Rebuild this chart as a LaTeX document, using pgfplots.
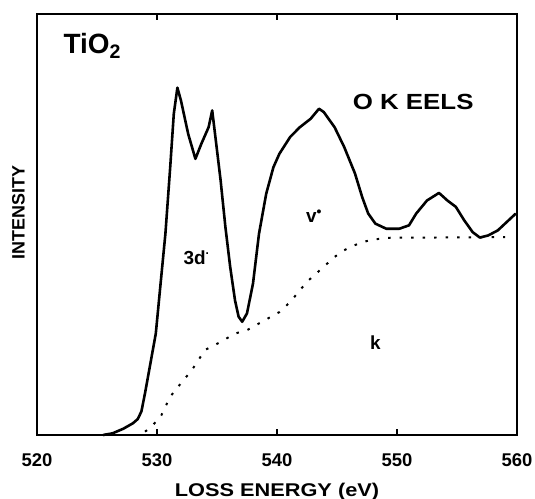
\documentclass[border=0pt]{standalone}
\usepackage{fontspec}
\setmainfont{Liberation Sans}
\newfontfamily\widefont{Liberation Sans}[FakeStretch=1.18]
\usepackage{pgfplots}
\pgfplotsset{compat=1.18}

% O K-edge EELS spectrum of TiO2 (solid) and atomic-like background (dotted)
\pgfplotstableread{
x y
525.5 0
526.3 0.4
527.2 1.5
528.0 2.8
528.4 3.8
528.7 5.6
529.0 9.9
529.4 16.2
529.9 24.1
530.3 36.0
530.7 47.8
531.1 63.6
531.4 76.3
531.7 82.5
532.0 79.4
532.6 71.5
533.2 65.6
533.7 69.2
534.3 73.1
534.6 77.1
534.9 70.0
535.3 60.5
535.7 49.4
536.1 39.9
536.5 32.0
536.8 28.1
537.1 26.9
537.5 28.9
538.0 36.0
538.5 47.8
539.1 57.3
539.7 63.6
540.2 66.8
541.1 70.8
541.9 73.1
542.8 75.1
543.5 77.5
543.9 76.7
544.8 73.1
545.6 68.4
546.5 62.1
547.1 56.5
547.6 52.6
548.2 50.2
549.1 49.0
550.2 49.0
551.0 49.8
551.6 52.6
552.5 55.7
553.5 57.5
554.2 55.7
554.9 54.2
555.6 51.0
556.3 48.2
556.9 46.9
557.6 47.4
558.4 48.6
559.3 51.0
559.9 52.6
}\spectrum

\pgfplotstableread{
x y
529.0 0.8
529.4 1.6
530.3 4.3
531.1 9.1
532.0 12.3
532.9 15.4
534.0 20.2
535.3 22.1
536.5 24.1
537.5 24.9
540.2 29.2
541.1 31.6
542.5 36.4
543.4 38.7
544.8 42.3
545.6 43.9
546.8 45.5
547.9 46.4
549.6 46.9
552.5 46.9
559.0 47.0
}\background

\begin{document}
\begin{tikzpicture}
\useasboundingbox (-37bp,-64bp) rectangle (498bp,435bp);
\begin{axis}[
    scale only axis,
    width=480bp, height=421bp,
    xmin=520, xmax=560, ymin=0, ymax=100,
    xtick={520,530,...,560}, ytick=\empty,
    tick align=inside,
    major tick length=6bp,
    every tick/.style={black, line width=1.8pt},
    axis line style={line width=2.8pt},
    /pgf/number format/assume math mode=true,
    /pgf/number format/1000 sep={},
    xticklabel style={font=\fontsize{18.5}{18.5}\selectfont\bfseries,
        anchor=north, inner sep=0pt, yshift=-18bp},
    xlabel={LOSS ENERGY (eV)},
    xlabel style={font=\fontsize{18.5}{18.5}\selectfont\widefont\bfseries,
        at={(axis description cs:0.5,0)}, anchor=north, inner sep=0pt,
        yshift=-48bp},
    ylabel={INTENSITY},
    ylabel style={font=\fontsize{18}{18}\selectfont\bfseries,
        at={(axis description cs:-0.025,0.5285)}, anchor=south,
        inner sep=0pt},
    clip=false
]
\addplot[black, line width=2.6pt, line join=round] table {\spectrum};
\addplot[black, line width=2pt, dash pattern=on 2.5bp off 9bp]
    table {\background};

\node[anchor=base west, inner sep=0pt,
      font=\fontsize{28}{28}\selectfont\bfseries]
    at (axis cs:522.2,90.7) {TiO\textsubscript{2}};
\node[anchor=base west, inner sep=0pt,
      font=\fontsize{22}{22}\selectfont\widefont\bfseries]
    at (axis cs:546.3,77.4) {O K EELS};
\node[anchor=base west, inner sep=0pt,
      font=\fontsize{19}{19}\selectfont\bfseries]
    at (axis cs:532.2,40.4) {3d\raisebox{0.55em}{\fontsize{12}{12}\selectfont.}};
\node[anchor=base west, inner sep=0pt,
      font=\fontsize{19}{19}\selectfont\bfseries]
    at (axis cs:542.4,50.4) {v\raisebox{0.35em}{\fontsize{14}{14}\selectfont•}};
\node[anchor=base west, inner sep=0pt,
      font=\fontsize{19}{19}\selectfont\bfseries]
    at (axis cs:547.75,20.2) {k};
\end{axis}
\end{tikzpicture}
\end{document}
